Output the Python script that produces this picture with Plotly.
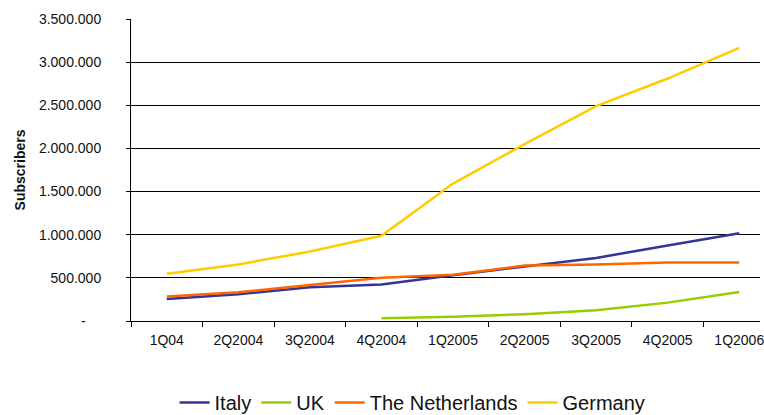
import plotly.graph_objects as go

# Quarterly subscriber counts per country
quarters = ["1Q04", "2Q2004", "3Q2004", "4Q2004", "1Q2005",
            "2Q2005", "3Q2005", "4Q2005", "1Q2006"]
italy = [254000, 309000, 391000, 422000, 531000, 632000, 731000, 875000, 1018000]
uk = [None, None, None, 31000, 50000, 78000, 124000, 213000, 337000]
netherlands = [283000, 332000, 418000, 500000, 535000, 642000, 656000, 678000, 678000]
germany = [547000, 656000, 805000, 988000, 1593000, 2050000, 2490000, 2810000, 3166000]

y_tickvals = [0, 500000, 1000000, 1500000, 2000000, 2500000, 3000000, 3500000]
y_ticktext = ["-\u00a0\u00a0\u00a0\u00a0", "500.000", "1.000.000", "1.500.000",
              "2.000.000", "2.500.000", "3.000.000", "3.500.000"]

series = [
    ("Italy", italy, "#333399"),
    ("UK", uk, "#99CC00"),
    ("The Netherlands", netherlands, "#FF6600"),
    ("Germany", germany, "#FFCC00"),
]

fig = go.Figure()
for name, values, color in series:
    fig.add_trace(go.Scatter(
        x=quarters, y=values, name=name, mode="lines",
        line=dict(color=color, width=2.5),
        connectgaps=False,
    ))

font_family = "Liberation Sans, Arial, sans-serif"

fig.update_layout(
    width=764, height=415,
    margin=dict(l=131, r=0, t=19, b=94),
    paper_bgcolor="white", plot_bgcolor="white",
    font=dict(family=font_family, size=14, color="#111"),
    showlegend=True,
    legend=dict(
        orientation="h", x=0.54, xanchor="center", xref="container",
        y=0.03, yanchor="middle", yref="container",
        font=dict(size=20, color="#111"),
        itemwidth=30,
    ),
    xaxis=dict(
        type="category",
        range=[-0.5, 8.29],
        showgrid=False,
        showline=True, linecolor="#000", linewidth=1,
        ticks="outside", ticklen=5, tickcolor="#000",
        tickson="boundaries",
        tickfont=dict(size=14, color="#111"),
        ticklabelstandoff=6,
        fixedrange=True,
    ),
    yaxis=dict(
        range=[0, 3500000],
        tickvals=y_tickvals, ticktext=y_ticktext,
        showgrid=True, gridcolor="#000", gridwidth=1,
        showline=True, linecolor="#000", linewidth=1,
        zeroline=False,
        ticks="outside", ticklen=4, tickcolor="#000",
        tickfont=dict(size=14, color="#111"),
        ticklabelstandoff=22,
        title=dict(text="<b>Subscribers</b>", font=dict(size=14, color="#111"),
                   standoff=10),
        fixedrange=True,
    ),
)

fig.write_html("out.html")
